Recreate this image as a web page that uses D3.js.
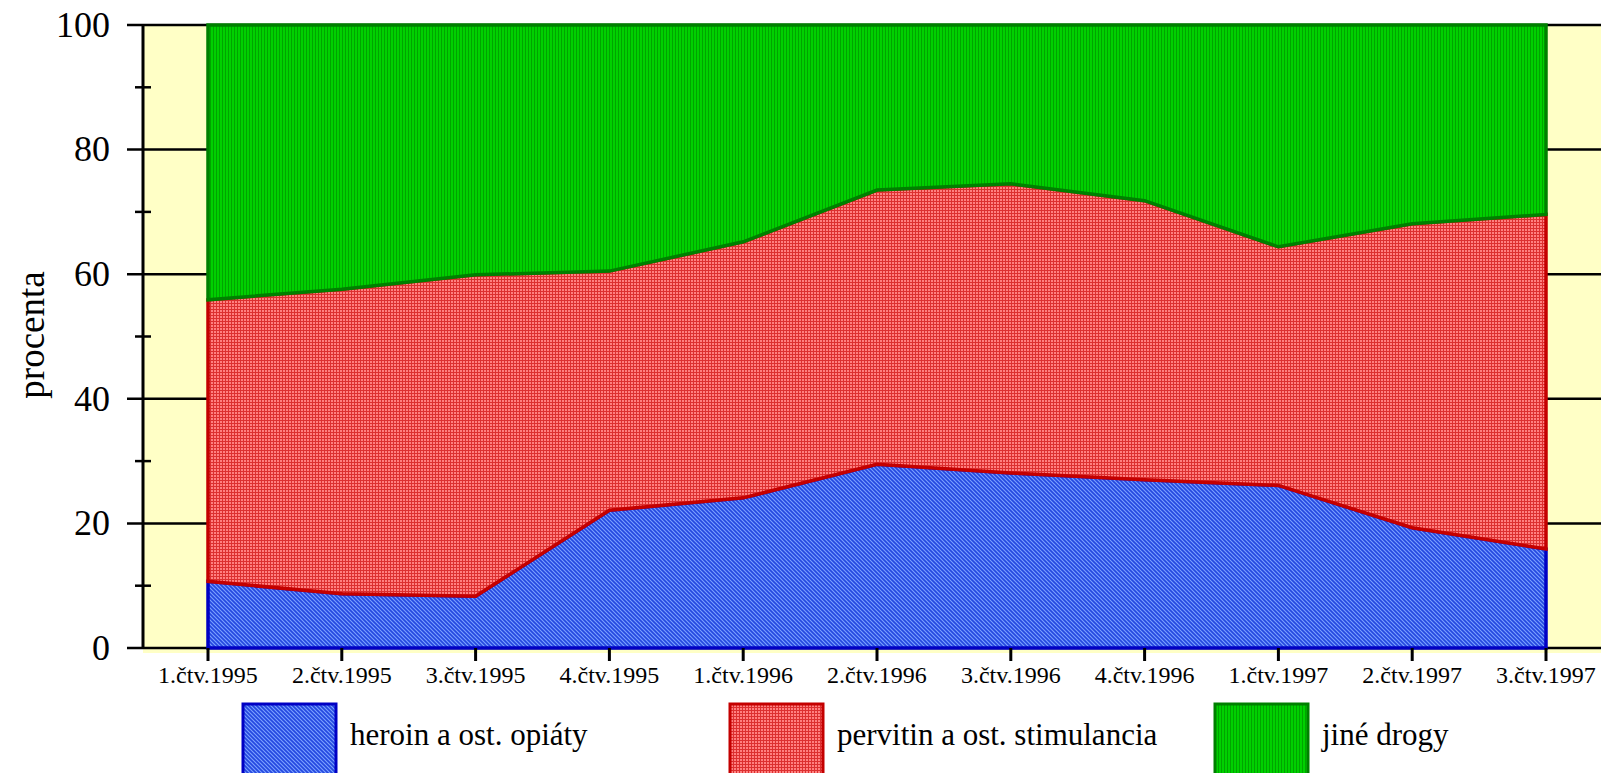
<!DOCTYPE html>
<html>
<head>
<meta charset="utf-8">
<script src="https://cdn.jsdelivr.net/npm/d3@7"></script>
<style>
	body { margin: 0; background: #fff; }
	svg { display: block; font-family: "Liberation Serif", "Times New Roman", serif; }
</style>
</head>
<body>
<svg id="chart"></svg>
<script>
const quarters = ['1.čtv.1995', '2.čtv.1995', '3.čtv.1995', '4.čtv.1995', '1.čtv.1996', '2.čtv.1996',
	'3.čtv.1996', '4.čtv.1996', '1.čtv.1997', '2.čtv.1997', '3.čtv.1997'];
const heroin = [10.7, 8.7, 8.3, 22.1, 24.1, 29.5, 28.1, 27.0, 26.1, 19.3, 15.9];
const pervitin = [45.2, 48.9, 51.6, 38.4, 41.1, 44.0, 46.4, 44.8, 38.3, 48.8, 53.7];
const jine = [44.1, 42.4, 40.1, 39.5, 34.8, 26.5, 25.5, 28.2, 35.6, 31.9, 30.4];
const series_names = ['heroin a ost. opiáty', 'pervitin a ost. stimulancia', 'jiné drogy'];
const y_ticks = [0, 20, 40, 60, 80, 100];
const y_minor = [10, 30, 50, 70, 90];

const width = 1601, height = 773;
const svg = d3.select('#chart').attr('width', width).attr('height', height);

// patterns for the three fills
const defs = svg.append('defs');
const blue_pat = defs.append('pattern').attr('id', 'p0')
	.attr('width', 4).attr('height', 4).attr('patternUnits', 'userSpaceOnUse');
blue_pat.append('rect').attr('width', 4).attr('height', 4).attr('fill', '#7aa0ff');
blue_pat.append('path').attr('d', 'M-1,-1 L5,5 M-1,3 L1,5 M3,-1 L5,1')
	.attr('stroke', '#2448e0').attr('stroke-width', 1.7);

const red_pat = defs.append('pattern').attr('id', 'p1')
	.attr('width', 3).attr('height', 3).attr('patternUnits', 'userSpaceOnUse');
red_pat.append('rect').attr('width', 3).attr('height', 3).attr('fill', '#ff8080');
red_pat.append('path').attr('d', 'M0.5,0 V3 M0,0.5 H3')
	.attr('stroke', '#dc3030').attr('stroke-width', 1);

const green_pat = defs.append('pattern').attr('id', 'p2')
	.attr('width', 3).attr('height', 3).attr('patternUnits', 'userSpaceOnUse');
green_pat.append('rect').attr('width', 3).attr('height', 3).attr('fill', '#00d000');
green_pat.append('path').attr('d', 'M0.5,0 V3')
	.attr('stroke', '#00a400').attr('stroke-width', 1);

const fills = ['url(#p0)', 'url(#p1)', 'url(#p2)'];
const strokes = ['#0000c4', '#c40000', '#008000'];

const x = d3.scalePoint().domain(quarters).range([208, 1546]);
const y = d3.scaleLinear().domain([0, 100]).range([648, 25]);

// yellow plot background
svg.append('rect')
	.attr('x', 143).attr('y', y(100))
	.attr('width', width - 143).attr('height', y(0) - y(100) + 5)
	.attr('fill', '#ffffc6');

// horizontal grid lines
svg.append('g').selectAll('line')
	.data(y_ticks)
	.join('line')
	.attr('x1', 127).attr('x2', width)
	.attr('y1', d => y(d)).attr('y2', d => y(d))
	.attr('stroke', '#000').attr('stroke-width', 2.5);

const table = quarters.map((q, i) => ({q: q, h: heroin[i], p: pervitin[i], j: jine[i]}));
const stack = d3.stack().keys(['h', 'p', 'j'])(table);

const area = d3.area()
	.x(d => x(d.data.q))
	.y0(d => y(d[0]))
	.y1(d => y(d[1]));

svg.append('g').selectAll('path')
	.data(stack)
	.join('path')
	.attr('d', area)
	.attr('fill', (d, i) => fills[i])
	.attr('stroke', (d, i) => strokes[i])
	.attr('stroke-width', 3.5)
	.attr('stroke-linejoin', 'miter');

// y axis
svg.append('line')
	.attr('x1', 143).attr('x2', 143)
	.attr('y1', y(100)).attr('y2', y(0))
	.attr('stroke', '#000').attr('stroke-width', 3);

svg.append('g').selectAll('line')
	.data(y_minor)
	.join('line')
	.attr('x1', 135).attr('x2', 151)
	.attr('y1', d => y(d)).attr('y2', d => y(d))
	.attr('stroke', '#000').attr('stroke-width', 2.5);

svg.append('g').selectAll('text')
	.data(y_ticks)
	.join('text')
	.attr('x', 110).attr('y', d => y(d))
	.attr('dy', '0.33em')
	.attr('text-anchor', 'end')
	.attr('font-size', 36)
	.text(d => d);

svg.append('text')
	.attr('transform', 'translate(44,' + 335 + ') rotate(-90)')
	.attr('text-anchor', 'middle')
	.attr('font-size', 37)
	.text('procenta');

// x axis ticks and labels
svg.append('g').selectAll('line')
	.data(quarters)
	.join('line')
	.attr('x1', d => x(d)).attr('x2', d => x(d))
	.attr('y1', y(0)).attr('y2', y(0) + 13)
	.attr('stroke', '#000').attr('stroke-width', 3);

svg.append('g').selectAll('text')
	.data(quarters)
	.join('text')
	.attr('x', d => x(d)).attr('y', 683)
	.attr('text-anchor', 'middle')
	.attr('font-size', 24)
	.text(d => d);

// legend
const legend_x = [243, 730, 1215];
const legend = svg.append('g').selectAll('g')
	.data(series_names)
	.join('g')
	.attr('transform', (d, i) => 'translate(' + legend_x[i] + ',704)');

legend.append('rect')
	.attr('width', 93).attr('height', 80)
	.attr('fill', (d, i) => fills[i])
	.attr('stroke', (d, i) => strokes[i])
	.attr('stroke-width', 3);

legend.append('text')
	.attr('x', 107).attr('y', 41)
	.attr('font-size', 31)
	.text(d => d);
</script>
</body>
</html>
